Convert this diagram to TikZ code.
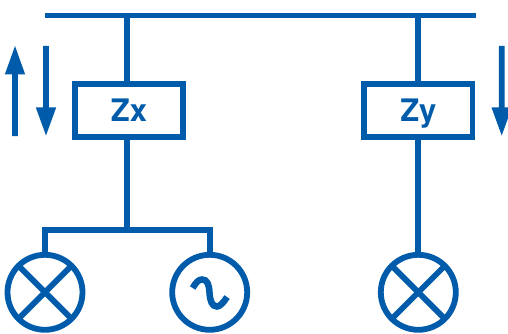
\documentclass[tikz,border=0pt]{standalone}
\usepackage{fontspec}
\setmainfont{Liberation Sans}
\newfontfamily\lblfont{TeX Gyre Heros}
\definecolor{elec}{HTML}{005BAA}
\tikzset{
  wire/.style={draw=elec,line width=5.8pt},
  imp/.style={draw=elec,line width=5.8pt,fill=white,rectangle,minimum width=108.5pt,minimum height=53.5pt,inner sep=0pt,outer sep=0pt,text=elec,text height=22pt,text depth=0pt,font=\lblfont\fontsize{31}{31}\selectfont\bfseries},
  loadc/.style={draw=elec,line width=5.8pt,fill=white,circle,minimum size=75pt,inner sep=0pt,outer sep=0pt},
  flow/.style={fill=elec,draw=none}
}
\begin{document}
\begin{tikzpicture}[x=1pt,y=-1pt]
\useasboundingbox (0,0) rectangle (508,334);
% bus
\coordinate (busL) at (45,15.5);
\coordinate (busR) at (475.5,15.5);
\coordinate (tapX) at (127,15.5);
\coordinate (tapY) at (418.2,15.5);
\coordinate (split) at (127,230);
\coordinate (splitL) at (45,230);
\coordinate (splitR) at (209.7,230);
\draw[wire] (busL) -- (busR);
% nodes
\node[imp] (zx) at (129,110.5) {Zx};
\node[imp] (zy) at (418.3,110.5) {Zy};
\node[loadc] (lampA) at (45,292.3) {};
\node[loadc] (gen) at (209.7,292.3) {};
\node[loadc] (lampB) at (418.3,292.3) {};
% connectors
\draw[wire] (tapX) -- (tapX |- zx.north);
\draw[wire] (tapY) -- (zy.north -| tapY);
\draw[wire] (tapX |- zx.south) -- (split);
\draw[wire,line cap=rect] (splitL) -- (splitR);
\draw[wire] (splitL) -- (lampA.north);
\draw[wire] (splitR) -- (gen.north);
\draw[wire] (zy.south) -- (lampB.north);
% lamp crosses
\foreach \n in {lampA,lampB}{
  \draw[wire] (\n.45) -- (\n.225);
  \draw[wire] (\n.135) -- (\n.315);
}
% sine
\draw[wire,line width=6.5pt] (192.7,288) .. controls (196,282) and (199,279.5) .. (202,279.5)
  .. controls (207,279.5) and (209,284) .. (209.5,292.5)
  .. controls (210,301) and (212,306.5) .. (217,306.5)
  .. controls (220,306.5) and (224,302) .. (227,297);
% flow arrows
\fill[flow] (12.2,136) -- (17.8,136) -- (17.8,74.5) -- (25.2,74.5) -- (15,46) -- (4.8,74.5) -- (12.2,74.5) -- cycle;
\fill[flow] (43.2,46) -- (48.8,46) -- (48.8,107.5) -- (56.2,107.5) -- (46,135.5) -- (35.8,107.5) -- (43.2,107.5) -- cycle;
\fill[flow] (498.9,46) -- (504.5,46) -- (504.5,107.5) -- (511.9,107.5) -- (501.7,135.5) -- (491.5,107.5) -- (498.9,107.5) -- cycle;
\end{tikzpicture}
\end{document}
